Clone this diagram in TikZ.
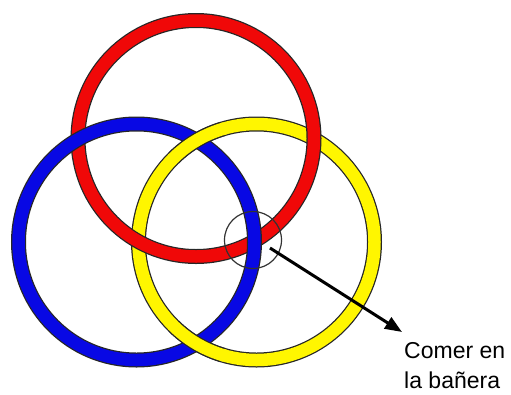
\documentclass[tikz,border=0pt]{standalone}
\usepackage{fontspec}
\setmainfont{Liberation Sans}
\usetikzlibrary{arrows.meta}
\definecolor{ringred}{RGB}{240,8,8}
\definecolor{ringblue}{RGB}{8,8,228}
\definecolor{ringyellow}{RGB}{255,246,0}
\tikzset{
  rimline/.style={line width=15pt, draw=black!85},
  bandline/.style={line width=12.5pt, draw=#1},
}

\begin{document}
\begin{tikzpicture}[x=1pt, y=-1pt]
    \useasboundingbox (0,0) rectangle (511,394);

    \coordinate (R) at (196,138.5);
    \coordinate (B) at (136.5,242);
    \coordinate (Y) at (256.5,242);

    \draw[rimline] (Y) circle (118);
    \draw[bandline=ringyellow] (Y) circle (118);
    \draw[rimline] (R) circle (118);
    \draw[bandline=ringred] (R) circle (118);
    \draw[rimline] (B) circle (118);
    \draw[bandline=ringblue] (B) circle (118);

    \foreach \a in {239.4, 120.6} {
        \draw[rimline] (Y) ++(\a-14:118) arc[start angle=\a-14, end angle=\a+14, radius=118];
        \draw[bandline=ringyellow] (Y) ++(\a-15:118) arc[start angle=\a-15, end angle=\a+15, radius=118];
    }

    \node[circle, draw=black!80, line width=1.2pt, minimum size=57pt, inner sep=0pt]
        (knot) at (253,240) {};

    \node[anchor=north west, align=left, inner sep=0pt,
        font=\fontsize{23}{30}\selectfont] (note) at (404,342)
        {Comer en\\la bañera};

    \coordinate (from) at (270,248);
    \coordinate (tip) at (402,332);
    \draw[line width=3pt, -{Triangle[length=17pt, width=13pt]}] (from) -- (tip);
\end{tikzpicture}
\end{document}
